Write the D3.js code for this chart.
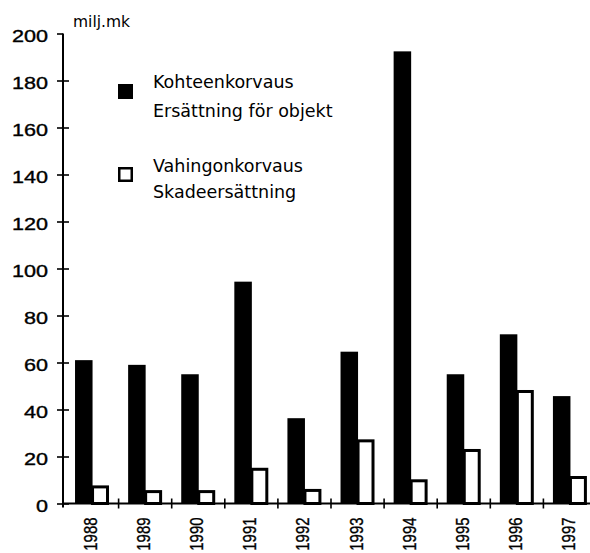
<!DOCTYPE html>
<html>
<head>
<meta charset="utf-8">
<script src="https://cdn.jsdelivr.net/npm/d3@7"></script>
<style>
  body { margin: 0; background: #fff; }
  svg { display: block; }
</style>
</head>
<body>
<div id="chart"></div>
<script>
const years = ["1988", "1989", "1990", "1991", "1992", "1993", "1994", "1995", "1996", "1997"];
const kohteenkorvaus = [61, 59, 55, 94.4, 36.3, 64.6, 192.4, 55, 72, 45.7];
const vahingonkorvaus = [7.7, 5.7, 5.7, 15.2, 6.2, 27.3, 10.3, 23.2, 48.3, 11.7];
const yTicks = [0, 20, 40, 60, 80, 100, 120, 140, 160, 180, 200];
const unitLabel = "milj.mk";
const legendItems = [
  { filled: true, lines: ["Kohteenkorvaus", "Ersättning för objekt"] },
  { filled: false, lines: ["Vahingonkorvaus", "Skadeersättning"] }
];

const width = 590, height = 553;
const axisX = 63;
// the scanned original is a bit wider than it is tall, so numbers get stretched
const stretch = 1.27;

const svg = d3.select("#chart").append("svg")
  .attr("width", width)
  .attr("height", height);

const x = d3.scaleBand().domain(years).range([66, 597]).padding(0);
const y = d3.scaleLinear().domain([0, 200]).range([503.5, 33.5]);
const bw = x.bandwidth();

// bars
const bars = svg.append("g");
bars.selectAll("rect.black")
  .data(years)
  .enter().append("rect")
  .attr("class", "black")
  .attr("x", d => x(d) + bw * 0.17)
  .attr("width", bw * 0.33)
  .attr("y", (d, i) => y(kohteenkorvaus[i]))
  .attr("height", (d, i) => y(0) - y(kohteenkorvaus[i]))
  .attr("fill", "#000");

bars.selectAll("rect.white")
  .data(years)
  .enter().append("rect")
  .attr("class", "white")
  .attr("x", d => x(d) + bw * 0.5)
  .attr("width", bw * 0.31 - 1.5)
  .attr("y", (d, i) => y(vahingonkorvaus[i]) + 1.5)
  .attr("height", (d, i) => y(0) - y(vahingonkorvaus[i]) - 1.5)
  .attr("fill", "#fff")
  .attr("stroke", "#000")
  .attr("stroke-width", 3);

// y axis
const yAxis = svg.append("g")
  .attr("transform", "translate(" + axisX + ",0)")
  .call(d3.axisLeft(y).tickValues(yTicks).tickSize(6).tickSizeOuter(0));
yAxis.select(".domain").attr("stroke-width", 2).attr("d", "M0," + (y(0) + 4) + "V" + y(200));
yAxis.selectAll(".tick line").attr("x1", -6).attr("x2", d => d === 200 ? 0 : 6).attr("stroke-width", 1.6);
yAxis.selectAll(".tick text")
  .attr("x", -15 / stretch)
  .attr("dy", "0.45em")
  .attr("transform", "scale(" + stretch + ",1)")
  .style("font-family", "'Liberation Sans', Arial, sans-serif")
  .style("font-size", "17px")
  .attr("fill", "#000")
  .attr("stroke", "#000")
  .attr("stroke-width", 0.35);

// x axis
const xAxis = svg.append("g")
  .attr("transform", "translate(0," + y(0) + ")");
xAxis.append("line")
  .attr("x1", axisX).attr("x2", width)
  .attr("stroke", "#000").attr("stroke-width", 2);
xAxis.selectAll("line.tick")
  .data(years.slice(1))
  .enter().append("line")
  .attr("class", "tick")
  .attr("x1", d => x(d) - 0.5).attr("x2", d => x(d) - 0.5)
  .attr("y1", -5).attr("y2", 5)
  .attr("stroke", "#000").attr("stroke-width", 1.6);
xAxis.selectAll("text")
  .data(years)
  .enter().append("text")
  .attr("transform", d => "translate(" + (x(d) + bw / 2 - 2) + ",14) rotate(-90) scale(0.83,1)")
  .attr("dy", "0.36em")
  .attr("text-anchor", "end")
  .style("font-family", "'Liberation Sans', Arial, sans-serif")
  .style("font-size", "18px")
  .attr("stroke", "#000")
  .attr("stroke-width", 0.35)
  .text(d => d);

// unit label
svg.append("text")
  .attr("x", 73).attr("y", 27)
  .style("font-family", "'DejaVu Sans', sans-serif")
  .style("font-size", "15.5px")
  .text(unitLabel);

// legend
const legendTop = [84, 167];
const legendBaselines = [[88, 117], [172, 198]];
const legend = svg.append("g");
legendItems.forEach((item, i) => {
  const top = legendTop[i];
  legend.append("rect")
    .attr("x", item.filled ? 118 : 119.25)
    .attr("y", item.filled ? top : top + 1.25)
    .attr("width", item.filled ? 15 : 12.5)
    .attr("height", item.filled ? 15 : 12.5)
    .attr("fill", item.filled ? "#000" : "#fff")
    .attr("stroke", item.filled ? "none" : "#000")
    .attr("stroke-width", 2.5);
  item.lines.forEach((line, j) => {
    legend.append("text")
      .attr("x", 153)
      .attr("y", legendBaselines[i][j])
      .style("font-family", "'DejaVu Sans', sans-serif")
      .style("font-size", "17.5px")
      .text(line);
  });
});
</script>
</body>
</html>
